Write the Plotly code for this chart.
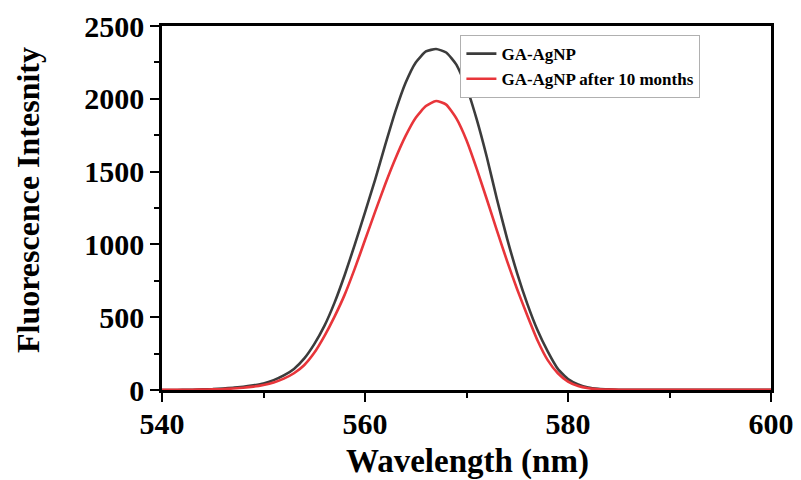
import plotly.graph_objects as go

wavelength = list(range(540, 601))

ga_agnp = [0, 0, 1, 2, 4, 6, 10, 16, 22, 32, 45, 68, 100, 145, 215, 315, 440, 600, 790, 1000,
           1220, 1445, 1685, 1915, 2110, 2250, 2325, 2342, 2318, 2235, 2080, 1860, 1600, 1310, 1040, 800,
           590, 410, 265, 145, 75, 38, 17, 8, 4, 2, 1, 1, 1, 1, 1, 1, 1, 1, 1, 1, 1, 1, 1, 1, 1]

ga_agnp_10m = [1, 1, 1, 2, 3, 4, 6, 10, 15, 23, 35, 52, 78, 115, 170, 255, 370, 504, 655, 835,
               1030, 1225, 1415, 1590, 1745, 1870, 1950, 1985, 1960, 1865, 1715, 1520, 1310, 1095, 885, 690,
               510, 340, 205, 115, 58, 27, 12, 5, 3, 2, 1, 1, 1, 1, 1, 1, 1, 1, 1, 1, 1, 1, 1, 1, 1]

series_names = ["GA-AgNP", "GA-AgNP after 10 months"]
series_colors = ["#3c3c3c", "#e8353a"]

x_ticks = [540, 560, 580, 600]
x_minor = [550, 570, 590]
y_ticks = [0, 500, 1000, 1500, 2000, 2500]
y_minor = [250, 750, 1250, 1750, 2250]

x_title = "Wavelength (nm)"
y_title = "Fluorescence Intesnity"

FONT = "Liberation Serif"

fig = go.Figure()
for name, vals, col in zip(series_names, [ga_agnp, ga_agnp_10m], series_colors):
    fig.add_trace(go.Scatter(x=wavelength, y=vals, mode="lines", name=name,
                             line=dict(color=col, width=2.6, shape="spline", smoothing=0.5)))

axis_common = dict(showline=True, linecolor="black", linewidth=2.5, mirror=True,
                   showgrid=False, zeroline=False, ticks="outside", ticklen=9, tickwidth=2,
                   tickcolor="black", automargin=False,
                   tickfont=dict(family=FONT, size=30, color="black", weight="bold"))

fig.update_xaxes(range=[540, 600], tickvals=x_ticks, ticktext=[str(v) for v in x_ticks],
                 minor=dict(tickvals=x_minor, ticklen=5, tickwidth=2, tickcolor="black", ticks="outside"),
                 ticklabelstandoff=-4,
                 **axis_common)
fig.update_yaxes(range=[0, 2500], tickvals=y_ticks, ticktext=[str(v) for v in y_ticks],
                 minor=dict(tickvals=y_minor, ticklen=5, tickwidth=2, tickcolor="black", ticks="outside"),
                 **axis_common)

fig.add_annotation(text=x_title, xref="paper", yref="paper", x=0.5016, y=-0.196,
                   xanchor="center", yanchor="middle", showarrow=False,
                   font=dict(family=FONT, size=33, color="black", weight="bold"))
fig.add_annotation(text=y_title, xref="paper", yref="paper", x=-0.22, y=0.522,
                   xanchor="center", yanchor="middle", showarrow=False, textangle=-90,
                   font=dict(family=FONT, size=32, color="black", weight="bold"))

# page body has an 8px default margin; figure size and margins compensate for it
fig.update_layout(
    width=793, height=472,
    margin=dict(l=154, r=30, t=18, b=90),
    plot_bgcolor="white", paper_bgcolor="white",
    legend=dict(x=0.49, y=0.975, xanchor="left", yanchor="top",
                bordercolor="#b0b0b0", borderwidth=1, bgcolor="white",
                font=dict(family=FONT, size=17, color="black", weight="bold"),
                tracegroupgap=0, itemwidth=30),
    showlegend=True,
)

fig.write_html("out.html")
